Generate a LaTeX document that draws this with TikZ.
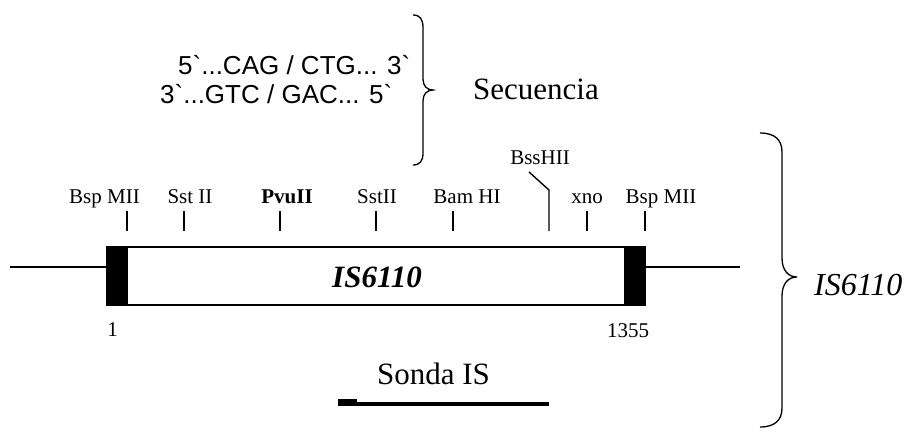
\documentclass[tikz,border=0pt]{standalone}
\usepackage{fontspec}
\setmainfont{Liberation Serif}
\newfontfamily\arialf{Liberation Sans}
\begin{document}
\begin{tikzpicture}[x=1pt,y=-1pt,
  lbl/.style={font=\fontsize{21}{24}\selectfont, inner sep=0pt, anchor=base},
  seq/.style={font=\arialf\fontsize{26}{30}\selectfont, inner sep=0pt, anchor=base west},
  big/.style={font=\fontsize{31}{36}\selectfont, inner sep=0pt},
  tick/.style={line width=1.4pt},
  dna/.style={line width=1.4pt},
  bracestroke/.style={line width=1.3pt}]
\useasboundingbox (0,0) rectangle (911,434);

% sequence
\node[seq] (s1) at (178,74) {5`...CAG / CTG... 3`};
\node[seq] (s2) at (160,103) {3`...GTC / GAC... 5`};
\draw[bracestroke] (413,15) .. controls (420,15) and (423,19) .. (423,28) -- (423,79)
  .. controls (423,86) and (427,90) .. (433,90)
  .. controls (427,90) and (423,94) .. (423,101) -- (423,153)
  .. controls (423,161) and (420,165) .. (413,165);
\node[big, anchor=base west] (secu) at (473,99) {Secuencia};

% DNA line and element
\coordinate (L0) at (10,267);
\coordinate (L1) at (106,267);
\coordinate (R0) at (646,267);
\coordinate (R1) at (740,267);
\draw[dna] (L0) -- (L1);
\draw[dna] (R0) -- (R1);
\draw[line width=1.8pt] (127,247) rectangle (625,305);
\fill (106,246.1) rectangle (127,305.9);
\fill (625,246.1) rectangle (646,305.9);
\node[big, font=\bfseries\itshape\fontsize{31}{36}\selectfont, anchor=base] (is) at (377,287) {IS6110};

% ticks
\foreach \xx in {127,184,280,376,453,587,645}
  \draw[tick] (\xx,211) -- (\xx,231);
\draw[tick] (549,231) -- (549,190) -- (529,172);

% labels
\node[lbl] (b1) at (104.5,203) {Bsp MII};
\node[lbl] (s3) at (190,203) {Sst II};
\node[lbl] (pv) at (287,203) {\textbf{PvuII}};
\node[lbl] (s4) at (377,203) {SstII};
\node[lbl] (bh) at (467,203) {Bam HI};
\node[lbl] (bs) at (540,164) {BssHII};
\node[lbl] (xn) at (587,203) {xno};
\node[lbl] (b2) at (661,203) {Bsp MII};
\node[lbl] (n1) at (112.5,336) {1};
\node[lbl] (n2) at (628,337) {1355};

% probe
\node[big, anchor=base] (sonda) at (433.5,384) {Sonda IS};
\fill (338,399) rectangle (357,406);
\fill (357,402) rectangle (549,406);

% right brace
\draw[bracestroke] (760,133) .. controls (775,133) and (782,140) .. (782,152) -- (782,258)
  .. controls (782,270) and (788,277) .. (797,277)
  .. controls (788,277) and (782,284) .. (782,296) -- (782,408)
  .. controls (782,420) and (775,427) .. (760,427);
\node[big, font=\itshape\fontsize{32}{36}\selectfont, anchor=base west] (is2) at (814,295) {IS6110};
\end{tikzpicture}
\end{document}
